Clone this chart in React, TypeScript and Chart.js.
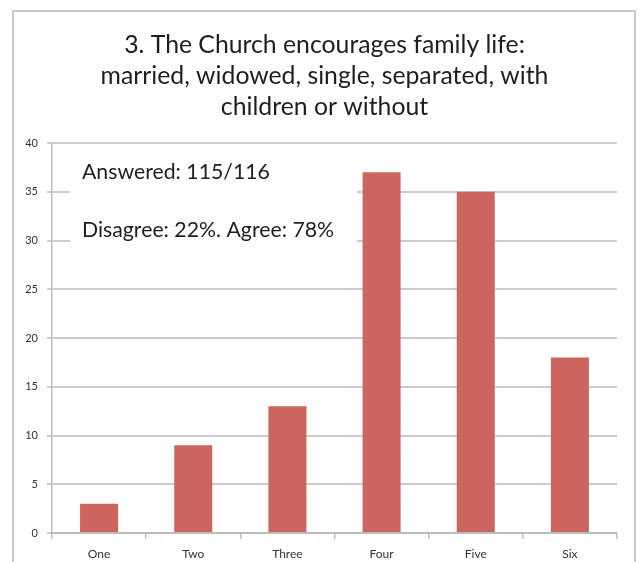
import React, { useEffect, useRef } from "react";
import { Chart, registerables } from "chart.js";

Chart.register(...registerables);

const categories = ["One", "Two", "Three", "Four", "Five", "Six"];
const counts = [3, 9, 13, 37, 35, 18];
const titleLines = [
  "3. The Church encourages family life:",
  "married, widowed, single, separated, with",
  "children or without",
];
const notes = ["Answered: 115/116", "Disagree: 22%. Agree: 78%"];
const noteValues = [36.3, 30.4];

const FONT = "Lato, 'Open Sans', sans-serif";

const framePlugin = {
  id: "frame",
  beforeDraw(chart: any) {
    const ctx = chart.ctx;
    ctx.save();
    ctx.fillStyle = "#ffffff";
    ctx.fillRect(0, 0, chart.width, chart.height);
    ctx.strokeStyle = "#c8c8c8";
    ctx.lineWidth = 2;
    ctx.strokeRect(13, 11, 622, 600);
    // title
    ctx.fillStyle = "#1e1e1e";
    ctx.textAlign = "center";
    ctx.textBaseline = "alphabetic";
    ctx.font = `24px ${FONT}`;
    const w = ctx.measureText(titleLines[1]).width;
    const size = (24 * 448) / w;
    ctx.font = `${size}px ${FONT}`;
    titleLines.forEach((t, i) => ctx.fillText(t, 324.5, 53 + i * 31));
    ctx.restore();
  },
};

const notesPlugin = {
  id: "notes",
  afterDatasetsDraw(chart: any) {
    const ctx = chart.ctx;
    const y = chart.scales.y;
    const area = chart.chartArea;
    ctx.save();
    // white text box that hides the grid lines behind the notes
    const top = y.getPixelForValue(38.6);
    const bottom = y.getPixelForValue(27.6);
    ctx.fillStyle = "#ffffff";
    ctx.fillRect(area.left + 18, top, 287, bottom - top);
    ctx.fillStyle = "#1e1e1e";
    ctx.font = `20px ${FONT}`;
    const w = ctx.measureText(notes[0]).width;
    const size = (20 * 188) / w;
    ctx.font = `${size}px ${FONT}`;
    ctx.textAlign = "left";
    ctx.textBaseline = "alphabetic";
    notes.forEach((t, i) => {
      ctx.fillText(t, area.left + 30, y.getPixelForValue(noteValues[i]));
    });
    ctx.restore();
  },
};

export default function App() {
  const ref = useRef<HTMLCanvasElement>(null);
  useEffect(() => {
    document.body.style.margin = "0";
    const chart = new Chart(ref.current!, {
      type: "bar",
      data: {
        labels: categories,
        datasets: [
          {
            data: counts,
            backgroundColor: "#cd655f",
            borderWidth: 0,
            categoryPercentage: 0.8,
            barPercentage: 0.505,
          },
        ],
      },
      options: {
        animation: false,
        responsive: false,
        layout: { padding: { left: 0, right: 24, top: 143, bottom: 0 } },
        plugins: {
          legend: { display: false },
          tooltip: { enabled: false },
          title: { display: false },
        },
        scales: {
          x: {
            afterFit(scale: any) {
              scale.height = 29;
            },
            grid: {
              display: true,
              drawOnChartArea: false,
              drawTicks: true,
              tickLength: 6,
              offset: true,
              color: "#bdbdbd",
              lineWidth: 1.5,
            },
            border: { display: true, color: "#bdbdbd", width: 2 },
            ticks: { color: "#333", font: { family: FONT, size: 12 }, padding: 8 },
          },
          y: {
            min: 0,
            max: 40,
            afterFit(scale: any) {
              scale.width = 52;
            },
            grid: {
              color: "#cccccc",
              lineWidth: 2,
              drawTicks: true,
              tickLength: 5,
            },
            border: { display: true, color: "#bdbdbd", width: 1.5 },
            ticks: {
              stepSize: 5,
              color: "#333",
              font: { family: FONT, size: 11 },
              padding: 9,
            },
          },
        },
      },
      plugins: [framePlugin, notesPlugin],
    });
    return () => chart.destroy();
  }, []);
  return <canvas ref={ref} width={641} height={562} style={{ display: "block" }} />;
}
